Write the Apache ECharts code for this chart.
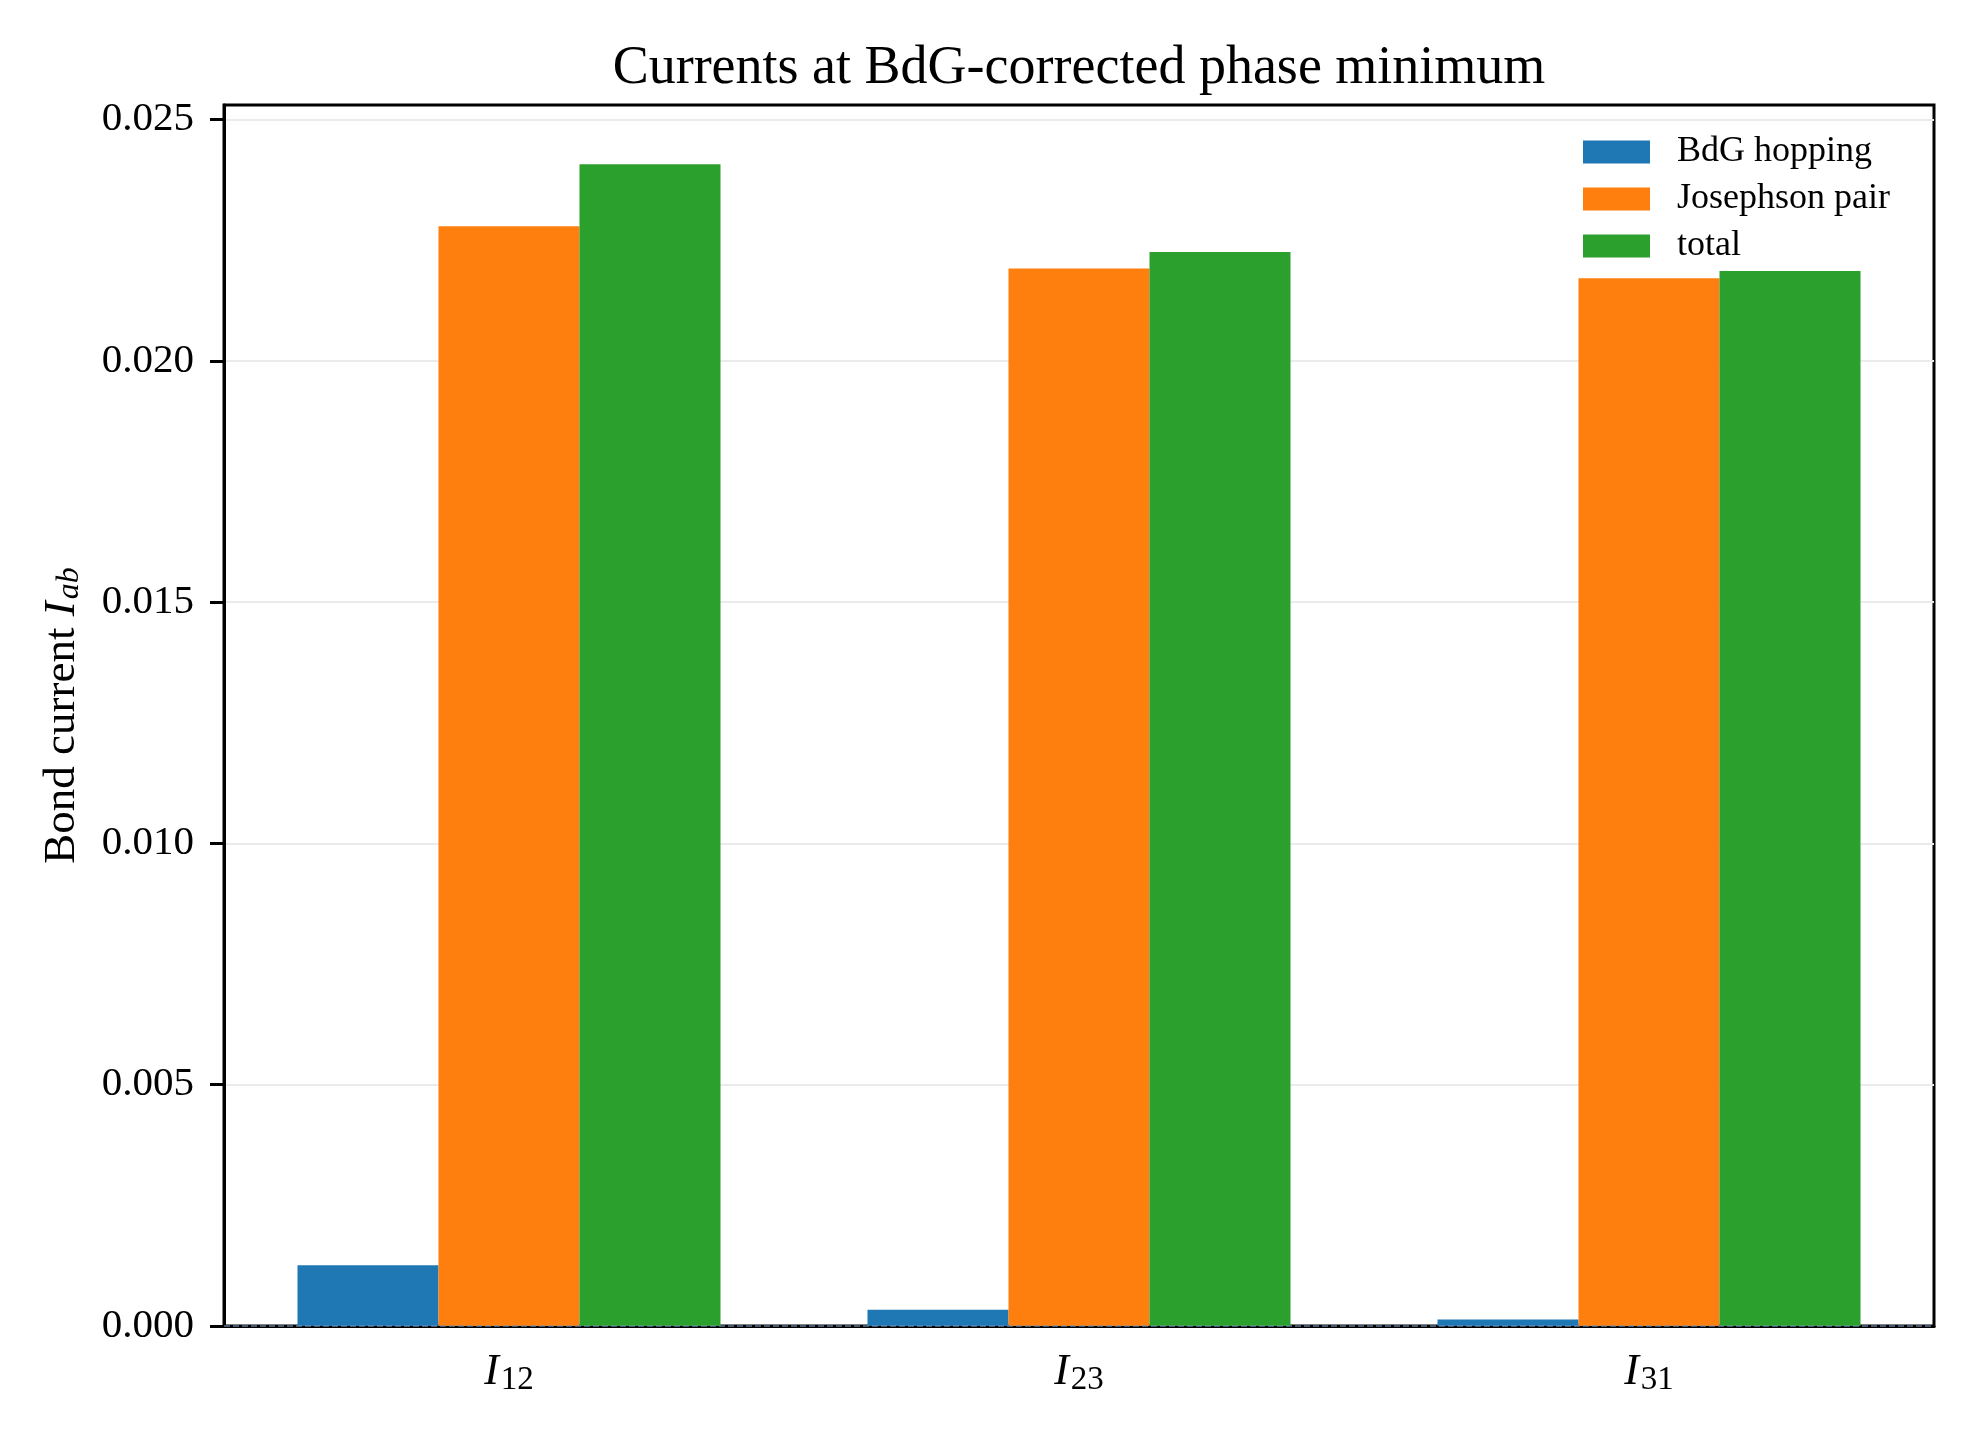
<!DOCTYPE html>
<html>
<head>
<meta charset="utf-8">
<title>Currents at BdG-corrected phase minimum</title>
<script src="https://cdn.jsdelivr.net/npm/echarts@6/dist/echarts.min.js"></script>
<style>
  html, body { margin: 0; padding: 0; background: #fff; }
  #chart { width: 1980px; height: 1440px; }
</style>
</head>
<body>
<div id="chart"></div>
<script>
// bonds on the x axis (rendered as I with subscript)
const bonds = ['12', '23', '31']
// bond currents per component
const bdgHopping = [0.00126, 0.000336, 0.000135]
const josephsonPair = [0.02279, 0.02191, 0.021711]
const total = [0.02407, 0.022256, 0.021862]
// y tick labels
const yTicks = [0.000, 0.005, 0.010, 0.015, 0.020, 0.025]

const serif = '"Liberation Serif", "DejaVu Serif", serif'
const chart = echarts.init(document.getElementById('chart'))

function barSeries(name, data, color, extra) {
  return Object.assign({
    name: name,
    type: 'bar',
    data: data,
    barWidth: 141,
    barGap: '0%',
    itemStyle: { color: color },
    emphasis: { disabled: true }
  }, extra || {})
}

chart.setOption({
  animation: false,
  backgroundColor: '#fff',
  title: {
    text: 'Currents at BdG-corrected phase minimum',
    left: 1079,
    textAlign: 'center',
    top: 42,
    padding: 0,
    textStyle: { fontFamily: serif, fontWeight: 'normal', fontSize: 54, color: '#000' }
  },
  legend: {
    orient: 'vertical',
    left: 1583,
    top: 134,
    padding: 0,
    itemWidth: 67,
    itemHeight: 23,
    itemGap: 11,
    icon: 'rect',
    textStyle: { fontFamily: serif, fontSize: 36, color: '#000', padding: [0, 0, 0, 22] },
    data: ['BdG hopping', 'Josephson pair', 'total']
  },
  grid: {
    left: 224,
    right: 46,
    top: 105,
    bottom: 114,
    show: true,
    borderColor: '#000',
    borderWidth: 3,
    backgroundColor: '#fff'
  },
  xAxis: {
    type: 'category',
    data: bonds,
    axisLine: { lineStyle: { color: '#000', width: 3 } },
    axisTick: { alignWithLabel: true, length: 14, lineStyle: { color: '#000', width: 3 } },
    axisLabel: {
      margin: 22,
      formatter: v => '{i|I}{s|' + v + '}',
      rich: {
        i: { fontFamily: serif, fontStyle: 'italic', fontSize: 44, color: '#000' },
        s: { fontFamily: serif, fontSize: 33, color: '#000', padding: [16, 0, 0, 2] }
      }
    },
    splitLine: { show: false }
  },
  yAxis: {
    type: 'value',
    min: 0,
    max: 0.0253,
    interval: 0.005,
    name: '{n|Bond current }{i|I}{s|ab}',
    nameLocation: 'middle',
    nameRotate: 90,
    nameGap: 138,
    nameTextStyle: {
      rich: {
        n: { fontFamily: serif, fontSize: 45, color: '#000' },
        i: { fontFamily: serif, fontStyle: 'italic', fontSize: 45, color: '#000' },
        s: { fontFamily: serif, fontStyle: 'italic', fontSize: 32, color: '#000', padding: [16, 0, 0, 2] }
      }
    },
    axisLine: { show: true, lineStyle: { color: '#000', width: 3 } },
    axisTick: { show: true, customValues: yTicks, length: 14, lineStyle: { color: '#000', width: 3 } },
    axisLabel: {
      margin: 30,
      customValues: yTicks,
      fontFamily: serif,
      fontSize: 41,
      color: '#000',
      formatter: v => v.toFixed(3)
    },
    splitLine: { show: true, lineStyle: { color: '#ebebeb', width: 2 } }
  },
  series: [
    barSeries('BdG hopping', bdgHopping, '#1f77b4', {
      markLine: {
        silent: true,
        symbol: 'none',
        label: { show: false },
        lineStyle: { color: '#6f93b8', type: 'dashed', width: 1.5, opacity: 0.8 },
        data: [{ yAxis: 0 }]
      }
    }),
    barSeries('Josephson pair', josephsonPair, '#ff7f0e'),
    barSeries('total', total, '#2ca02c')
  ]
})
</script>
</body>
</html>
